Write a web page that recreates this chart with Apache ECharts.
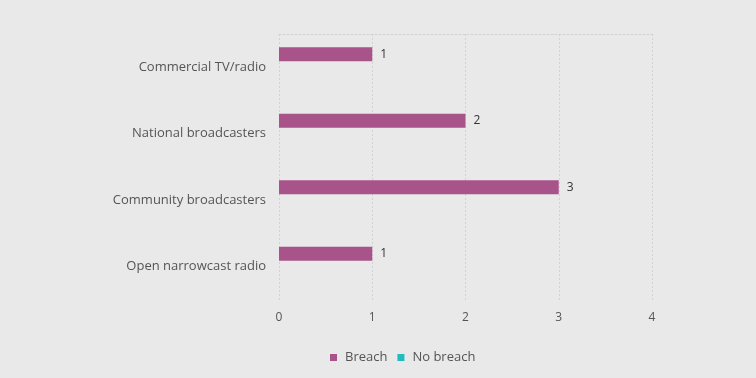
<!DOCTYPE html>
<html>
<head>
	<meta charset="utf-8" />
	<title>Breaches by sector</title>
	<script src="https://cdn.jsdelivr.net/npm/echarts@6/dist/echarts.min.js"></script>
	<style>
		html, body { margin: 0; padding: 0; background: #e9e9e9; }
		#main { width: 756px; height: 378px; }
	</style>
</head>
<body>
	<div id="main"></div>
	<script type="text/javascript">
		// data
		var categories = ['Commercial TV/radio', 'National broadcasters', 'Community broadcasters', 'Open narrowcast radio'];
		var breach = [1, 2, 3, 1];
		var noBreach = [null, null, null, null];
		var xTicks = [0, 1, 2, 3, 4];

		var font = 'Open Sans, Lato, sans-serif';
		var myChart = echarts.init(document.getElementById('main'));

		var option = {
			backgroundColor: '#e9e9e9',
			textStyle: { fontFamily: font },
			legend: {
				top: 346,
				left: 325,
				itemWidth: 7,
				itemHeight: 7,
				itemGap: 10,
				icon: 'rect',
				textStyle: { color: '#555', fontSize: 13, fontFamily: font, padding: [0, 0, 0, 3] },
				data: ['Breach', 'No breach']
			},
			grid: { left: 279, right: 104, top: 34, bottom: 78, containLabel: false },
			xAxis: [{
				type: 'value',
				min: xTicks[0],
				max: xTicks[xTicks.length - 1],
				interval: 1,
				axisLine: { show: false },
				axisTick: { show: false },
				axisLabel: { color: '#555', fontSize: 12, margin: 12, fontFamily: font },
				splitLine: { show: true, lineStyle: { color: '#d2d2d2', type: [2, 2], width: 1 } }
			}, {
				type: 'value',
				position: 'top',
				min: 0, max: 4,
				axisLine: { show: true, lineStyle: { color: '#d2d2d2', type: [2, 2] } },
				axisTick: { show: false },
				axisLabel: { show: false },
				splitLine: { show: false }
			}],
			yAxis: {
				type: 'category',
				inverse: true,
				data: categories,
				axisLine: { show: false },
				axisTick: { show: false },
				axisLabel: { color: '#555', fontSize: 13, margin: 13, fontFamily: font }
			},
			series: [{
				name: 'Breach',
				type: 'bar',
				data: breach,
				barWidth: 14,
				barGap: '86%',
				itemStyle: { color: '#a8538a' },
				label: { show: true, position: 'right', distance: 8, color: '#333', fontSize: 12, fontFamily: font }
			}, {
				name: 'No breach',
				type: 'bar',
				data: noBreach,
				barWidth: 14,
				itemStyle: { color: '#1fbdbd' },
				label: { show: true, position: 'right', distance: 8, color: '#333', fontSize: 12 }
			}]
		};

		myChart.setOption(option);
	</script>
</body>
</html>
